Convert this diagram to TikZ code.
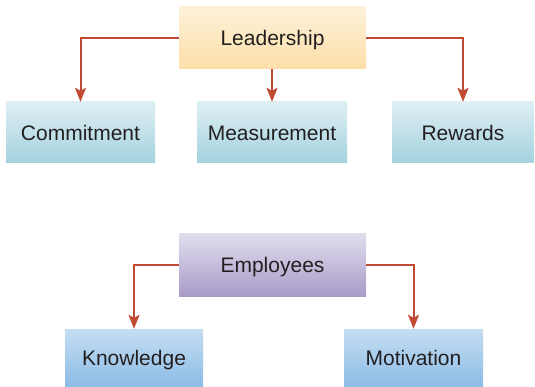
\documentclass[tikz,border=0pt]{standalone}
\usepackage{fontspec}
\setmainfont{Liberation Sans}
\usetikzlibrary{arrows.meta}
\definecolor{linkred}{HTML}{C04A33}
\definecolor{txtgray}{HTML}{231F20}
\tikzset{box/.style={rectangle,inner sep=0pt,text=txtgray,text height=15.2pt,text depth=0pt,font=\fontsize{21}{25}\selectfont},}
\tikzset{leadbox/.style={box,top color={rgb,255:red,253;green,241;blue,218},bottom color={rgb,255:red,253;green,223;blue,168},minimum width=187pt,minimum height=62pt},}
\tikzset{aimbox/.style={box,top color={rgb,255:red,222;green,239;blue,244},bottom color={rgb,255:red,164;green,210;blue,222},minimum height=61pt},}
\tikzset{empbox/.style={box,top color={rgb,255:red,225;green,221;blue,237},bottom color={rgb,255:red,168;green,155;blue,200},minimum width=187pt,minimum height=62pt},}
\tikzset{skillbox/.style={box,top color={rgb,255:red,197;green,222;blue,243},bottom color={rgb,255:red,139;green,187;blue,229},minimum height=58pt},}
\tikzset{link/.style={draw=linkred,line width=2pt,-{Stealth[length=14pt,width=11pt,inset=3pt]}},}

\begin{document}
\begin{tikzpicture}[x=1pt,y=-1pt]
\useasboundingbox (0,0) rectangle (535,387);
\node[leadbox] (lead) at (272.5,38) {Leadership};
\node[aimbox,minimum width=149pt] (commit) at (80.5,132.5) {Commitment};
\node[aimbox,minimum width=150pt] (measure) at (272,132.5) {Measurement};
\node[aimbox,minimum width=142pt] (reward) at (463,132.5) {Rewards};
\node[empbox] (emp) at (272.5,265) {Employees};
\node[skillbox,minimum width=138pt] (know) at (134,358) {Knowledge};
\node[skillbox,minimum width=139pt] (motiv) at (413.5,358) {Motivation};
\draw[link] (lead.west) -| (commit.north);
\draw[link] (lead.south -| measure.north) -- (measure.north);
\draw[link] (lead.east) -| (reward.north);
\draw[link] (emp.west) -| (know.north);
\draw[link] (emp.east) -| (motiv.north);
\end{tikzpicture}
\end{document}
